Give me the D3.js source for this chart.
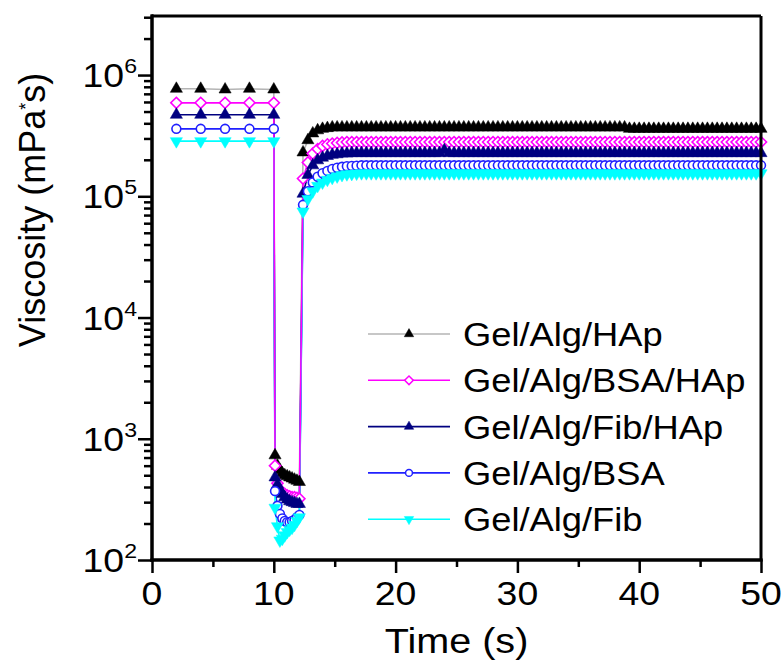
<!DOCTYPE html>
<html>
<head>
<meta charset="utf-8">
<script src="https://cdn.jsdelivr.net/npm/d3@7"></script>
<style>
body { margin: 0; background: #fff; }
text { font-family: Arial, "Liberation Sans", sans-serif; fill: #000; }
</style>
</head>
<body>
<svg id="chart" width="783" height="661"></svg>
<script>
// Sample times (s): interval 1, interval 2 (high shear), interval 3 (recovery)
var time = [
  2, 4, 6, 8, 10,
  10.1, 10.3, 10.5, 10.7, 10.9, 11.1, 11.3, 11.5, 11.7, 11.9, 12.1,
  12.4, 12.8, 13.2, 13.6, 14.0, 14.4, 14.8, 15.2, 15.6, 16.0,
  16.4, 16.8, 17.2, 17.6, 18.0, 18.4, 18.8, 19.2, 19.6, 20.0,
  20.4, 20.8, 21.2, 21.6, 22.0, 22.4, 22.8, 23.2, 23.6, 24.0,
  24.4, 24.8, 25.2, 25.6, 26.0, 26.4, 26.8, 27.2, 27.6, 28.0,
  28.4, 28.8, 29.2, 29.6, 30.0, 30.4, 30.8, 31.2, 31.6, 32.0,
  32.4, 32.8, 33.2, 33.6, 34.0, 34.4, 34.8, 35.2, 35.6, 36.0,
  36.4, 36.8, 37.2, 37.6, 38.0, 38.4, 38.8, 39.2, 39.6, 40.0,
  40.4, 40.8, 41.2, 41.6, 42.0, 42.4, 42.8, 43.2, 43.6, 44.0,
  44.4, 44.8, 45.2, 45.6, 46.0, 46.4, 46.8, 47.2, 47.6, 48.0,
  48.4, 48.8, 49.2, 49.6, 50.0
];

// Viscosity (mPa*s) per sample
var hap = [
  7.7e5, 7.7e5, 7.6e5, 7.7e5, 7.6e5,
  730, 600, 550, 520, 500, 490, 480, 470, 460, 450, 440,
  2.3e5, 2.9e5, 3.3e5, 3.5e5, 3.6e5, 3.65e5, 3.7e5, 3.7e5, 3.7e5, 3.7e5,
  3.7e5, 3.7e5, 3.7e5, 3.7e5, 3.7e5, 3.7e5, 3.7e5, 3.7e5, 3.7e5, 3.7e5,
  3.7e5, 3.7e5, 3.7e5, 3.7e5, 3.7e5, 3.7e5, 3.7e5, 3.7e5, 3.7e5, 3.7e5,
  3.7e5, 3.7e5, 3.7e5, 3.7e5, 3.7e5, 3.7e5, 3.7e5, 3.7e5, 3.7e5, 3.7e5,
  3.7e5, 3.7e5, 3.7e5, 3.7e5, 3.7e5, 3.7e5, 3.7e5, 3.7e5, 3.7e5, 3.7e5,
  3.7e5, 3.7e5, 3.7e5, 3.7e5, 3.7e5, 3.7e5, 3.7e5, 3.7e5, 3.7e5, 3.7e5,
  3.7e5, 3.7e5, 3.7e5, 3.7e5, 3.7e5, 3.7e5, 3.7e5, 3.6e5, 3.6e5, 3.6e5,
  3.6e5, 3.6e5, 3.6e5, 3.6e5, 3.6e5, 3.6e5, 3.6e5, 3.6e5, 3.6e5, 3.6e5,
  3.6e5, 3.6e5, 3.6e5, 3.6e5, 3.6e5, 3.6e5, 3.6e5, 3.6e5, 3.6e5, 3.6e5,
  3.6e5, 3.6e5, 3.6e5, 3.6e5, 3.6e5
];
var bsaHap = [
  5.9e5, 5.9e5, 5.9e5, 5.9e5, 5.9e5,
  600, 430, 380, 360, 350, 340, 335, 330, 330, 325, 320,
  1.4e5, 1.9e5, 2.25e5, 2.45e5, 2.6e5, 2.68e5, 2.72e5, 2.75e5, 2.78e5, 2.8e5,
  2.8e5, 2.8e5, 2.8e5, 2.8e5, 2.8e5, 2.8e5, 2.8e5, 2.8e5, 2.8e5, 2.8e5,
  2.8e5, 2.8e5, 2.8e5, 2.8e5, 2.8e5, 2.8e5, 2.8e5, 2.8e5, 2.8e5, 2.8e5,
  2.8e5, 2.8e5, 2.8e5, 2.8e5, 2.8e5, 2.8e5, 2.8e5, 2.8e5, 2.8e5, 2.8e5,
  2.8e5, 2.8e5, 2.8e5, 2.8e5, 2.8e5, 2.8e5, 2.8e5, 2.8e5, 2.8e5, 2.8e5,
  2.8e5, 2.8e5, 2.8e5, 2.8e5, 2.8e5, 2.8e5, 2.8e5, 2.8e5, 2.8e5, 2.8e5,
  2.8e5, 2.8e5, 2.8e5, 2.8e5, 2.8e5, 2.8e5, 2.8e5, 2.8e5, 2.8e5, 2.8e5,
  2.8e5, 2.8e5, 2.8e5, 2.8e5, 2.8e5, 2.8e5, 2.8e5, 2.8e5, 2.8e5, 2.8e5,
  2.8e5, 2.8e5, 2.8e5, 2.8e5, 2.8e5, 2.8e5, 2.8e5, 2.8e5, 2.8e5, 2.8e5,
  2.8e5, 2.8e5, 2.8e5, 2.8e5, 2.8e5
];
var fibHap = [
  4.7e5, 4.7e5, 4.7e5, 4.7e5, 4.7e5,
  480, 420, 380, 350, 330, 315, 305, 300, 295, 290, 290,
  1.05e5, 1.5e5, 1.8e5, 1.98e5, 2.08e5, 2.15e5, 2.2e5, 2.22e5, 2.25e5, 2.25e5,
  2.27e5, 2.27e5, 2.27e5, 2.27e5, 2.27e5, 2.27e5, 2.27e5, 2.27e5, 2.27e5, 2.27e5,
  2.27e5, 2.27e5, 2.27e5, 2.27e5, 2.27e5, 2.27e5, 2.27e5, 2.27e5, 2.27e5, 2.4e5,
  2.27e5, 2.27e5, 2.27e5, 2.27e5, 2.27e5, 2.27e5, 2.27e5, 2.27e5, 2.27e5, 2.27e5,
  2.27e5, 2.27e5, 2.27e5, 2.27e5, 2.27e5, 2.27e5, 2.27e5, 2.27e5, 2.27e5, 2.27e5,
  2.27e5, 2.27e5, 2.27e5, 2.27e5, 2.27e5, 2.27e5, 2.27e5, 2.27e5, 2.27e5, 2.27e5,
  2.27e5, 2.27e5, 2.27e5, 2.27e5, 2.27e5, 2.27e5, 2.27e5, 2.27e5, 2.27e5, 2.27e5,
  2.27e5, 2.27e5, 2.27e5, 2.27e5, 2.27e5, 2.27e5, 2.27e5, 2.27e5, 2.27e5, 2.27e5,
  2.27e5, 2.27e5, 2.27e5, 2.27e5, 2.27e5, 2.27e5, 2.27e5, 2.27e5, 2.27e5, 2.27e5,
  2.27e5, 2.27e5, 2.27e5, 2.27e5, 2.27e5
];
var bsa = [
  3.6e5, 3.6e5, 3.6e5, 3.6e5, 3.6e5,
  370, 280, 240, 220, 210, 205, 205, 210, 215, 225, 235,
  8.5e4, 1.1e5, 1.3e5, 1.45e5, 1.55e5, 1.62e5, 1.68e5, 1.72e5, 1.75e5, 1.77e5,
  1.78e5, 1.79e5, 1.8e5, 1.8e5, 1.8e5, 1.8e5, 1.8e5, 1.8e5, 1.8e5, 1.8e5,
  1.8e5, 1.8e5, 1.8e5, 1.8e5, 1.8e5, 1.8e5, 1.8e5, 1.8e5, 1.8e5, 1.8e5,
  1.8e5, 1.8e5, 1.8e5, 1.8e5, 1.8e5, 1.8e5, 1.8e5, 1.8e5, 1.8e5, 1.8e5,
  1.8e5, 1.8e5, 1.8e5, 1.8e5, 1.8e5, 1.8e5, 1.8e5, 1.8e5, 1.8e5, 1.8e5,
  1.8e5, 1.8e5, 1.8e5, 1.8e5, 1.8e5, 1.8e5, 1.8e5, 1.8e5, 1.8e5, 1.8e5,
  1.8e5, 1.8e5, 1.8e5, 1.8e5, 1.8e5, 1.8e5, 1.8e5, 1.8e5, 1.8e5, 1.8e5,
  1.8e5, 1.8e5, 1.8e5, 1.8e5, 1.8e5, 1.8e5, 1.8e5, 1.8e5, 1.8e5, 1.8e5,
  1.8e5, 1.8e5, 1.8e5, 1.8e5, 1.8e5, 1.8e5, 1.8e5, 1.8e5, 1.8e5, 1.8e5,
  1.8e5, 1.8e5, 1.8e5, 1.8e5, 1.8e5
];
var fib = [
  2.85e5, 2.85e5, 2.85e5, 2.85e5, 2.85e5,
  270, 190, 145, 150, 160, 170, 178, 185, 195, 210, 225,
  7.5e4, 9.5e4, 1.1e5, 1.22e5, 1.3e5, 1.37e5, 1.42e5, 1.46e5, 1.5e5, 1.52e5,
  1.53e5, 1.54e5, 1.55e5, 1.55e5, 1.55e5, 1.55e5, 1.55e5, 1.55e5, 1.55e5, 1.55e5,
  1.55e5, 1.55e5, 1.55e5, 1.55e5, 1.55e5, 1.55e5, 1.55e5, 1.55e5, 1.55e5, 1.55e5,
  1.55e5, 1.55e5, 1.55e5, 1.55e5, 1.55e5, 1.55e5, 1.55e5, 1.55e5, 1.55e5, 1.55e5,
  1.55e5, 1.55e5, 1.55e5, 1.55e5, 1.55e5, 1.55e5, 1.55e5, 1.55e5, 1.55e5, 1.55e5,
  1.55e5, 1.55e5, 1.55e5, 1.55e5, 1.55e5, 1.55e5, 1.55e5, 1.55e5, 1.55e5, 1.55e5,
  1.55e5, 1.55e5, 1.55e5, 1.55e5, 1.55e5, 1.55e5, 1.55e5, 1.55e5, 1.55e5, 1.55e5,
  1.55e5, 1.55e5, 1.55e5, 1.55e5, 1.55e5, 1.55e5, 1.55e5, 1.55e5, 1.55e5, 1.55e5,
  1.55e5, 1.55e5, 1.55e5, 1.55e5, 1.55e5, 1.55e5, 1.55e5, 1.55e5, 1.55e5, 1.55e5,
  1.55e5, 1.55e5, 1.55e5, 1.55e5, 1.55e5
];

var seriesNames = ["Gel/Alg/HAp", "Gel/Alg/BSA/HAp", "Gel/Alg/Fib/HAp", "Gel/Alg/BSA", "Gel/Alg/Fib"];
var xTicks = [0, 10, 20, 30, 40, 50];
var yTicks = [1e2, 1e3, 1e4, 1e5, 1e6];

var svg = d3.select("#chart");
var margin = {top: 16, right: 22, bottom: 101, left: 152},
    width = 783 - margin.left - margin.right,
    height = 661 - margin.top - margin.bottom;

// the original picture is a little wider than tall, text too
var stretch = 1.1;

var x = d3.scaleLinear().domain([0, 50]).range([0, width]);
var y = d3.scaleLog().domain([100, 3.07e6]).range([height, 0]);

var g = svg.append("g")
    .attr("transform", "translate(" + margin.left + "," + margin.top + ")");

var styles = [
  {line: "#b4b4b4", stroke: "#000", fill: "#000", sym: d3.symbolTriangle, rot: 0},
  {line: "#ff00ff", stroke: "#ff00ff", fill: "#fff", sym: d3.symbolSquare, rot: 45},
  {line: "#000080", stroke: "#000080", fill: "#000080", sym: d3.symbolTriangle, rot: 0},
  {line: "#2020ff", stroke: "#2020ff", fill: "#fff", sym: d3.symbolCircle, rot: 0},
  {line: "#00ffff", stroke: "#00ffff", fill: "#00ffff", sym: d3.symbolTriangle, rot: 180}
];
var sizes = [64, 62, 64, 62, 64];

var all = [hap, bsaHap, fibHap, bsa, fib].map(function(vals) {
  return vals.map(function(v, i) { return {t: time[i], v: v}; });
});

var line = d3.line()
    .x(function(d) { return x(d.t); })
    .y(function(d) { return y(d.v); });

// lines (magenta last so the vertical drops show magenta)
[0, 2, 3, 4, 1].forEach(function(k) {
  g.append("path")
    .attr("d", line(all[k]))
    .attr("fill", "none")
    .attr("stroke", styles[k].line)
    .attr("stroke-width", 1.6);
});

// markers
[0, 1, 2, 3, 4].forEach(function(k) {
  var s = styles[k];
  g.append("g").selectAll("path")
    .data(all[k])
    .enter().append("path")
    .attr("d", d3.symbol().type(s.sym).size(sizes[k]))
    .attr("transform", function(d) {
      return "translate(" + x(d.t) + "," + y(d.v) + ") rotate(" + s.rot + ")";
    })
    .attr("fill", s.fill)
    .attr("stroke", s.stroke)
    .attr("stroke-width", s.fill === "#fff" ? 1.6 : 0.5);
});

// frame (top and right)
g.append("line").attr("x1", 0).attr("x2", width).attr("y1", 0).attr("y2", 0)
  .attr("stroke", "#000").attr("stroke-width", 3);
g.append("line").attr("x1", width).attr("x2", width).attr("y1", 0).attr("y2", height)
  .attr("stroke", "#000").attr("stroke-width", 3);

// X axis
var xAxis = g.append("g").attr("transform", "translate(0," + height + ")");
xAxis.call(d3.axisBottom(x).tickValues(xTicks).tickSize(13).tickFormat(""));
xAxis.append("g").call(d3.axisBottom(x).tickValues([5, 15, 25, 35, 45]).tickSize(7).tickFormat(""));
xAxis.selectAll(".domain").attr("stroke-width", 3).attr("d", "M-1.5,0H" + (width + 1.5));
xAxis.selectAll(".tick line").attr("stroke-width", 2.5);
xAxis.selectAll(".xlab")
  .data(xTicks).enter().append("text")
  .attr("transform", function(d) { return "translate(" + x(d) + ",45) scale(" + stretch + ",1)"; })
  .attr("text-anchor", "middle")
  .style("font-size", "34px")
  .text(function(d) { return d; });

g.append("text")
  .attr("transform", "translate(" + (width / 2) + "," + (height + 93) + ") scale(" + stretch + ",1)")
  .attr("text-anchor", "middle")
  .style("font-size", "36px")
  .text("Time (s)");

// Y axis
var minorY = [];
[100, 1000, 10000, 100000, 1000000].forEach(function(base) {
  for (var m = 2; m <= 9; m++) if (base * m <= 3.07e6) minorY.push(base * m);
});
var yAxis = g.append("g");
yAxis.call(d3.axisLeft(y).tickValues(yTicks).tickSize(14).tickFormat(""));
yAxis.append("g").call(d3.axisLeft(y).tickValues(minorY).tickSize(8).tickFormat(""));
yAxis.selectAll(".domain").attr("stroke-width", 3).attr("d", "M0," + (height + 1.5) + "V-1.5");
yAxis.selectAll(".tick line").attr("stroke-width", 2.5);

var ylab = yAxis.selectAll(".ylab")
  .data(yTicks).enter().append("text")
  .attr("transform", function(d) { return "translate(-15," + (y(d) + 12) + ") scale(" + stretch + ",1)"; })
  .attr("text-anchor", "end")
  .style("font-size", "34px");
ylab.append("tspan").text("10");
ylab.append("tspan")
  .attr("dy", -14)
  .style("font-size", "21px")
  .text(function(d) { return Math.round(Math.log10(d)); });

var yt = svg.append("text")
  .attr("transform", "translate(45,210) rotate(-90)")
  .attr("text-anchor", "middle")
  .style("font-size", "36px");
yt.append("tspan").text("Viscosity (mPa");
yt.append("tspan").attr("dy", -13).style("font-size", "18px").text("*");
yt.append("tspan").attr("dy", 13).text("s)");

// Legend
var legend = svg.append("g").attr("transform", "translate(368,334)");
seriesNames.forEach(function(name, k) {
  var s = styles[k];
  var row = legend.append("g").attr("transform", "translate(0," + (k * 46.3) + ")");
  row.append("line").attr("x1", 0).attr("x2", 82).attr("y1", 0).attr("y2", 0)
    .attr("stroke", s.line).attr("stroke-width", 1.6);
  row.append("path")
    .attr("d", d3.symbol().type(s.sym).size(sizes[k] * 0.6))
    .attr("transform", "translate(41,0) rotate(" + s.rot + ")")
    .attr("fill", s.fill)
    .attr("stroke", s.stroke)
    .attr("stroke-width", s.fill === "#fff" ? 1.5 : 0.5);
  row.append("text")
    .attr("transform", "translate(95,12) scale(" + stretch + ",1)")
    .style("font-size", "33px")
    .text(name);
});
</script>
</body>
</html>
